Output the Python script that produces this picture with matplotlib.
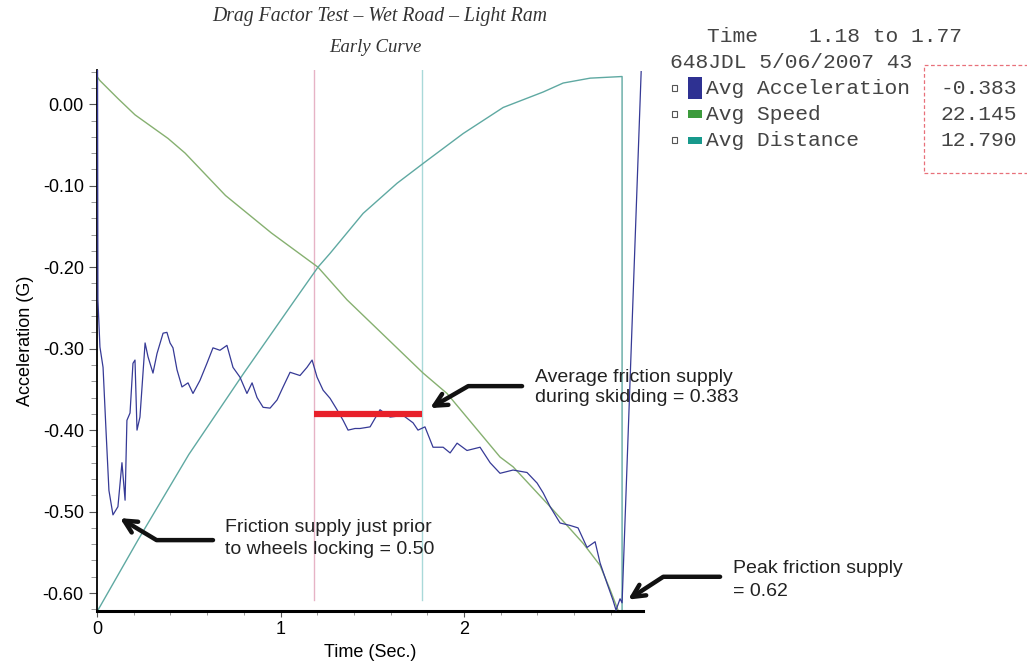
import matplotlib
matplotlib.use('Agg')
import matplotlib.pyplot as plt
from matplotlib.patches import Rectangle
from matplotlib.ticker import MultipleLocator, FormatStrFormatter

plt.rcParams['axes.unicode_minus'] = False
plt.rcParams['font.family'] = ['Liberation Sans', 'DejaVu Sans']

# Acceleration (G) over time
acc_t = [0.003, 0.005, 0.016, 0.033, 0.049, 0.065, 0.087, 0.114, 0.136, 0.153,
         0.163, 0.180, 0.196, 0.207, 0.218, 0.234, 0.262, 0.278, 0.305, 0.327,
         0.360, 0.381, 0.398, 0.414, 0.436, 0.463, 0.496, 0.523, 0.561, 0.599,
         0.632, 0.670, 0.708, 0.741, 0.779, 0.817, 0.845, 0.872, 0.905, 0.943,
         0.981, 1.014, 1.052, 1.106, 1.144, 1.172, 1.199, 1.232, 1.270, 1.308,
         1.341, 1.368, 1.406, 1.433, 1.488, 1.542, 1.597, 1.668, 1.722, 1.749,
         1.787, 1.831, 1.886, 1.924, 1.962, 2.016, 2.087, 2.142, 2.196, 2.267,
         2.343, 2.398, 2.431, 2.469, 2.523, 2.578, 2.621, 2.670, 2.714, 2.741,
         2.779, 2.812, 2.828, 2.850, 2.861, 2.965]
acc_g = [0.042, -0.240, -0.298, -0.323, -0.400, -0.474, -0.504, -0.494, -0.440, -0.486,
         -0.388, -0.379, -0.318, -0.314, -0.400, -0.384, -0.293, -0.310, -0.330, -0.306,
         -0.281, -0.280, -0.293, -0.299, -0.326, -0.347, -0.342, -0.355, -0.339, -0.318,
         -0.299, -0.302, -0.296, -0.323, -0.335, -0.355, -0.342, -0.360, -0.372, -0.373,
         -0.363, -0.347, -0.329, -0.333, -0.323, -0.314, -0.335, -0.351, -0.361, -0.375,
         -0.388, -0.400, -0.398, -0.398, -0.396, -0.375, -0.384, -0.382, -0.391, -0.400,
         -0.396, -0.421, -0.421, -0.428, -0.416, -0.425, -0.421, -0.440, -0.453, -0.449,
         -0.452, -0.465, -0.477, -0.494, -0.514, -0.517, -0.520, -0.544, -0.537, -0.563,
         -0.588, -0.609, -0.621, -0.607, -0.612, 0.040]

# Speed trace (scaled onto the same axis)
speed_t = [0.0, 0.016, 0.114, 0.207, 0.300, 0.387, 0.480, 0.700, 0.950, 1.204,
           1.362, 1.777, 1.907, 2.196, 2.267, 2.469, 2.649, 2.741, 2.796, 2.839]
speed_g = [0.034, 0.029, 0.007, -0.013, -0.028, -0.042, -0.060, -0.112, -0.158, -0.200,
           -0.240, -0.330, -0.355, -0.433, -0.445, -0.494, -0.539, -0.566, -0.596, -0.621]

# Distance trace (scaled onto the same axis)
dist_t = [0.005, 0.223, 0.500, 0.800, 1.079, 1.204, 1.270, 1.450, 1.635, 1.787,
          1.995, 2.213, 2.431, 2.540, 2.687, 2.861, 2.861]
dist_g = [-0.621, -0.535, -0.430, -0.330, -0.240, -0.200, -0.183, -0.134, -0.097, -0.071,
          -0.036, -0.004, 0.015, 0.026, 0.032, 0.034, -0.621]

cursor_start = 1.18
cursor_end = 1.77
avg_friction = -0.38

legend_names = ['Avg Acceleration', 'Avg Speed', 'Avg Distance']
legend_values = ['-0.383', '22.145', '12.790']
legend_colors = ['#2e3192', '#3c9a3c', '#17998c']

W, H = 1027, 671


def px(x, y):
    # pixel position -> figure fraction
    return x / W, 1 - y / H


fig = plt.figure(figsize=(W / 100, H / 100), dpi=100)
ax = fig.add_axes([97 / W, 1 - 611 / H, (643 - 97) / W, (611 - 70) / H])

ax.plot(speed_t, speed_g, color='#86b070', lw=1.0, zorder=2)
ax.plot(dist_t, dist_g, color='#5fa9a2', lw=1.0, zorder=2)
ax.plot(acc_t, acc_g, color='#363a96', lw=0.9, zorder=3)

ax.axvline(cursor_start, ymin=0.02, ymax=1, color='#e6b3c6', lw=1.0, zorder=1)
ax.axvline(cursor_end, ymin=0.02, ymax=1, color='#a9d9d9', lw=1.0, zorder=1)
ax.plot([cursor_start, cursor_end], [avg_friction, avg_friction], color='#e8202a',
        lw=4.5, solid_capstyle='butt', zorder=4)

ax.set_xlim(0, 2.975)
ax.set_ylim(-0.622, 0.042)
ax.xaxis.set_major_locator(MultipleLocator(1))
ax.xaxis.set_minor_locator(MultipleLocator(0.2))
ax.yaxis.set_major_locator(MultipleLocator(0.1))
ax.yaxis.set_minor_locator(MultipleLocator(0.02))
ax.yaxis.set_major_formatter(FormatStrFormatter('%.2f'))
ax.xaxis.set_major_formatter(FormatStrFormatter('%d'))
ax.tick_params(axis='both', which='major', labelsize=13, color='#555555')
ax.tick_params(axis='y', which='major', length=6, width=0.8)
ax.tick_params(axis='y', which='minor', length=4, width=0.6, color='#888888')
ax.tick_params(axis='x', which='major', length=4, width=0.8)
ax.tick_params(axis='x', which='minor', length=3, width=0.6, color='#888888')
for s in ['top', 'right']:
    ax.spines[s].set_visible(False)
ax.spines['left'].set_linewidth(1.3)
ax.spines['bottom'].set_linewidth(2.2)

ax.set_ylabel('Acceleration (G)', fontsize=13, labelpad=6)
ax.set_xlabel('Time (Sec.)', fontsize=13, labelpad=4)

# arrows + notes
arrow_kw = dict(arrowstyle='->,head_length=0.9,head_width=0.45', lw=3.2, color='#111111',
                shrinkA=0, shrinkB=0)
ax.annotate('', xy=(1.815, -0.373), xytext=(2.316, -0.346),
            arrowprops=dict(connectionstyle='angle,angleA=0,angleB=30,rad=0', **arrow_kw),
            annotation_clip=False)
ax.text(2.387, -0.348, 'Average friction supply\nduring skidding = 0.383', fontsize=14,
        va='center', ha='left', linespacing=1.2, color='#222222', clip_on=False)

ax.annotate('', xy=(0.125, -0.508), xytext=(0.632, -0.535),
            arrowprops=dict(connectionstyle='angle,angleA=0,angleB=-31,rad=0', **arrow_kw),
            annotation_clip=False)
ax.text(0.698, -0.533, 'Friction supply just prior\nto wheels locking = 0.50', fontsize=14,
        va='center', ha='left', linespacing=1.45, color='#222222', clip_on=False)

ax.annotate('', xy=(2.894, -0.608), xytext=(3.395, -0.580),
            arrowprops=dict(connectionstyle='angle,angleA=0,angleB=33,rad=0', **arrow_kw),
            annotation_clip=False)
ax.text(3.466, -0.584, 'Peak friction supply\n= 0.62', fontsize=14,
        va='center', ha='left', linespacing=1.45, color='#222222', clip_on=False)

# titles
fig.text(*px(380, 17), 'Drag Factor Test \u2013 Wet Road \u2013 Light Ram', fontsize=14.2,
         family='Liberation Serif', style='italic', ha='center', va='center', color='#333333')
fig.text(*px(375, 48), 'Early Curve', fontsize=13.5,
         family='Liberation Serif', style='italic', ha='center', va='center', color='#333333')

# cursor readout box
mono = dict(family='Liberation Mono', fontsize=15.3, color='#444444', va='center', ha='left')
fig.text(*px(707, 37), 'Time    1.18 to 1.77', **mono)
fig.text(*px(670, 62), '648JDL 5/06/2007 43', **mono)
for i, (name, val, col) in enumerate(zip(legend_names, legend_values, legend_colors)):
    yc = 88 + 26 * i
    x0, y0 = px(672, yc + 3)
    fig.patches.append(Rectangle((x0, y0), 5 / W, 6 / H, transform=fig.transFigure,
                                 facecolor='white', edgecolor='#555555', lw=0.8))
    ph = 22 if i == 0 else 7
    x0, y0 = px(688, yc + ph / 2)
    fig.patches.append(Rectangle((x0, y0), 14 / W, ph / H, transform=fig.transFigure,
                                 facecolor=col, edgecolor='none'))
    fig.text(*px(706, yc), name, **mono)
    fig.text(*px(940, yc), val, **mono)

x0, y0 = px(924, 173)
fig.patches.append(Rectangle((x0, y0), 120 / W, 108 / H, transform=fig.transFigure,
                             facecolor='none', edgecolor='#e8707a', lw=0.9, ls=(0, (3, 2))))

fig.savefig('out.png', dpi=100)
